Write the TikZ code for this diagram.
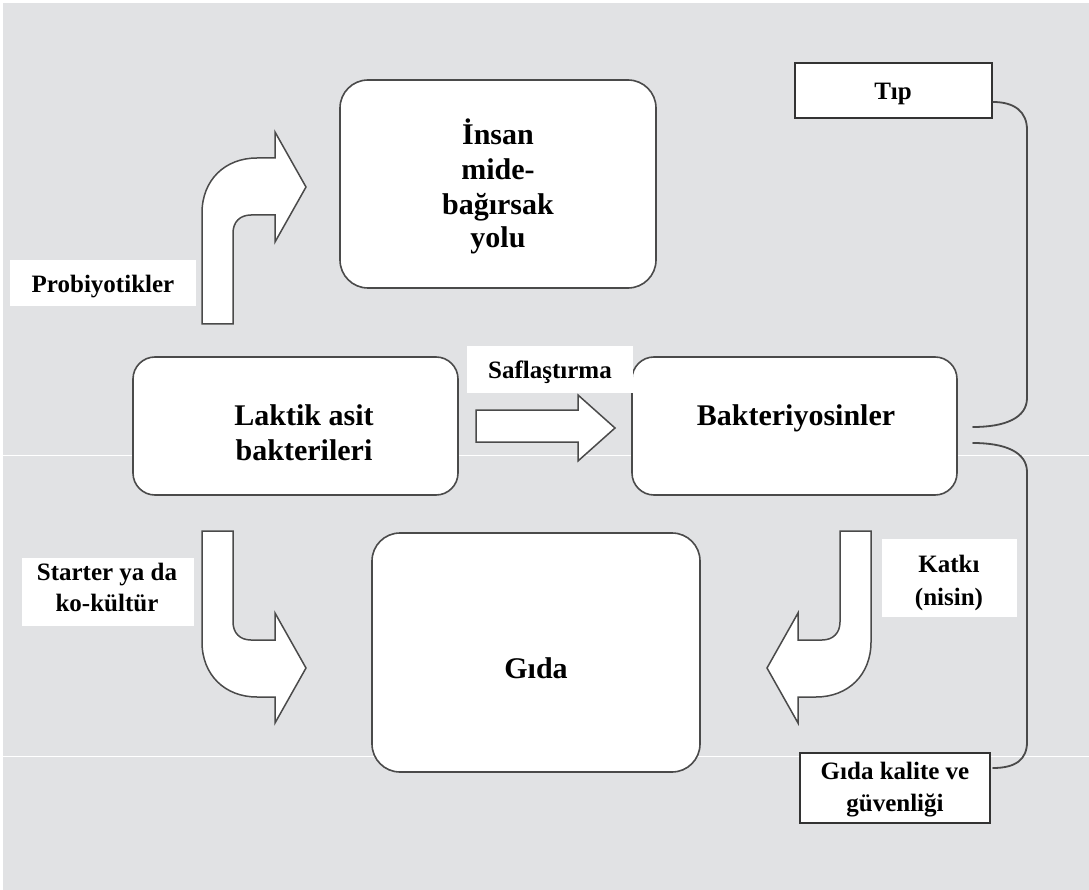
\documentclass[tikz,border=0pt]{standalone}
\usepackage{fontspec}
\setmainfont{Liberation Serif}
\definecolor{bg}{HTML}{E1E2E4}
\definecolor{linec}{HTML}{4A4A4A}
\definecolor{sqc}{HTML}{333333}
\begin{document}
\begin{tikzpicture}[x=1pt,y=-1pt,
  box/.style={draw=linec, line width=1.6pt, fill=white, rounded corners=22pt, inner sep=0pt},
  tag/.style={fill=white, inner sep=0pt},
  sq/.style={draw=sqc, line width=2.2pt, fill=white, inner sep=0pt},
  tA/.style={font=\bfseries\fontsize{30}{30}\selectfont, anchor=base, inner sep=0pt},
  tB/.style={font=\bfseries\fontsize{25}{25}\selectfont, anchor=base, inner sep=0pt},
  arr/.style={draw=linec, line width=1.5pt, fill=white, line join=miter},
  brace/.style={draw=linec, line width=1.8pt, line cap=round}]

\useasboundingbox (0,0) rectangle (1089,890);
\fill[white] (0,0) rectangle (1089,890);
\fill[bg] (3,3) rectangle (1089,890);
\draw[white, line width=1pt] (0,455.5) -- (1089,455.5);
\draw[white, line width=1pt] (0,756.5) -- (1089,756.5);

% boxes
\node[box, minimum width=316pt, minimum height=208pt, rounded corners=28pt] (ins) at (498,184) {};
\node[box, minimum width=325pt, minimum height=138pt] (lab) at (295.5,426) {};
\node[box, minimum width=325pt, minimum height=138pt] (bak) at (794.5,426) {};
\node[box, minimum width=328pt, minimum height=239pt, rounded corners=28pt] (gid) at (536,652.5) {};
\node[sq, minimum width=197pt, minimum height=55pt] (tip) at (893.5,90.5) {};
\node[sq, minimum width=190pt, minimum height=70pt] (gk) at (895,788) {};

% box texts
\node[tA] (ins1) at (498,145) {İnsan};
\node[tA] (ins2) at (498,180) {mide-};
\node[tA] (ins3) at (498,215) {bağırsak};
\node[tA] (ins4) at (498,248) {yolu};
\node[tA] (lab1) at (304,425) {Laktik asit};
\node[tA] (lab2) at (304,460) {bakterileri};
\node[tA] (bak1) at (796,425) {Bakteriyosinler};
\node[tA] (gid1) at (536,678) {Gıda};
\node[tB] (tip1) at (893,100) {Tıp};
\node[tB] (gk1) at (895,779) {Gıda kalite ve};
\node[tB] (gk2) at (895,811) {güvenliği};

% arrows
\draw[arr] (202,324) -- (202,213) .. controls (202,180) and (225,158) .. (257,158) -- (275,158) -- (275,132) -- (306,187) -- (275,242) -- (275,215) -- (251,215) .. controls (240,215) and (233,222) .. (233,233) -- (233,324) -- cycle;
\draw[arr] (202,531) -- (202,642) .. controls (202,675) and (225,697) .. (257,697) -- (275,697) -- (275,723) -- (306,668) -- (275,613) -- (275,640) -- (251,640) .. controls (240,640) and (233,633) .. (233,622) -- (233,531) -- cycle;
\draw[arr] (871,531) -- (871,642) .. controls (871,675) and (848,697) .. (816,697) -- (798,697) -- (798,723) -- (767,668) -- (798,613) -- (798,640) -- (822,640) .. controls (833,640) and (840,633) .. (840,622) -- (840,531) -- cycle;
\draw[arr] (476,410) -- (578,410) -- (578,395) -- (615,428) -- (578,461) -- (578,442) -- (476,442) -- cycle;

% labels
\node[tag, minimum width=186pt, minimum height=46pt] (probbg) at (103,283) {};
\node[tB] (prob) at (103,293) {Probiyotikler};
\node[tag, minimum width=166pt, minimum height=47pt] (safbg) at (550,369.5) {};
\node[tB] (saf) at (550,378) {Saflaştırma};
\node[tag, minimum width=172pt, minimum height=68pt] (stbg) at (108,592) {};
\node[tB] (st1) at (107,580) {Starter ya da};
\node[tB] (st2) at (107,611) {ko-kültür};
\node[tag, minimum width=135pt, minimum height=78pt] (katbg) at (949.5,578) {};
\node[tB] (kat1) at (949,572) {Katkı};
\node[tB] (kat2) at (949,605) {(nisin)};

% braces
\coordinate (b1s) at (993,102);
\coordinate (b1e) at (973,427);
\coordinate (b2s) at (973,443);
\coordinate (b2e) at (993,768);
\draw[brace] (b1s) .. controls (1015,102) and (1027,112) .. (1027,130) -- (1027,398) .. controls (1027,418) and (1005,427) .. (b1e);
\draw[brace] (b2s) .. controls (1005,443) and (1027,452) .. (1027,472) -- (1027,742) .. controls (1027,760) and (1015,768) .. (b2e);
\end{tikzpicture}
\end{document}
